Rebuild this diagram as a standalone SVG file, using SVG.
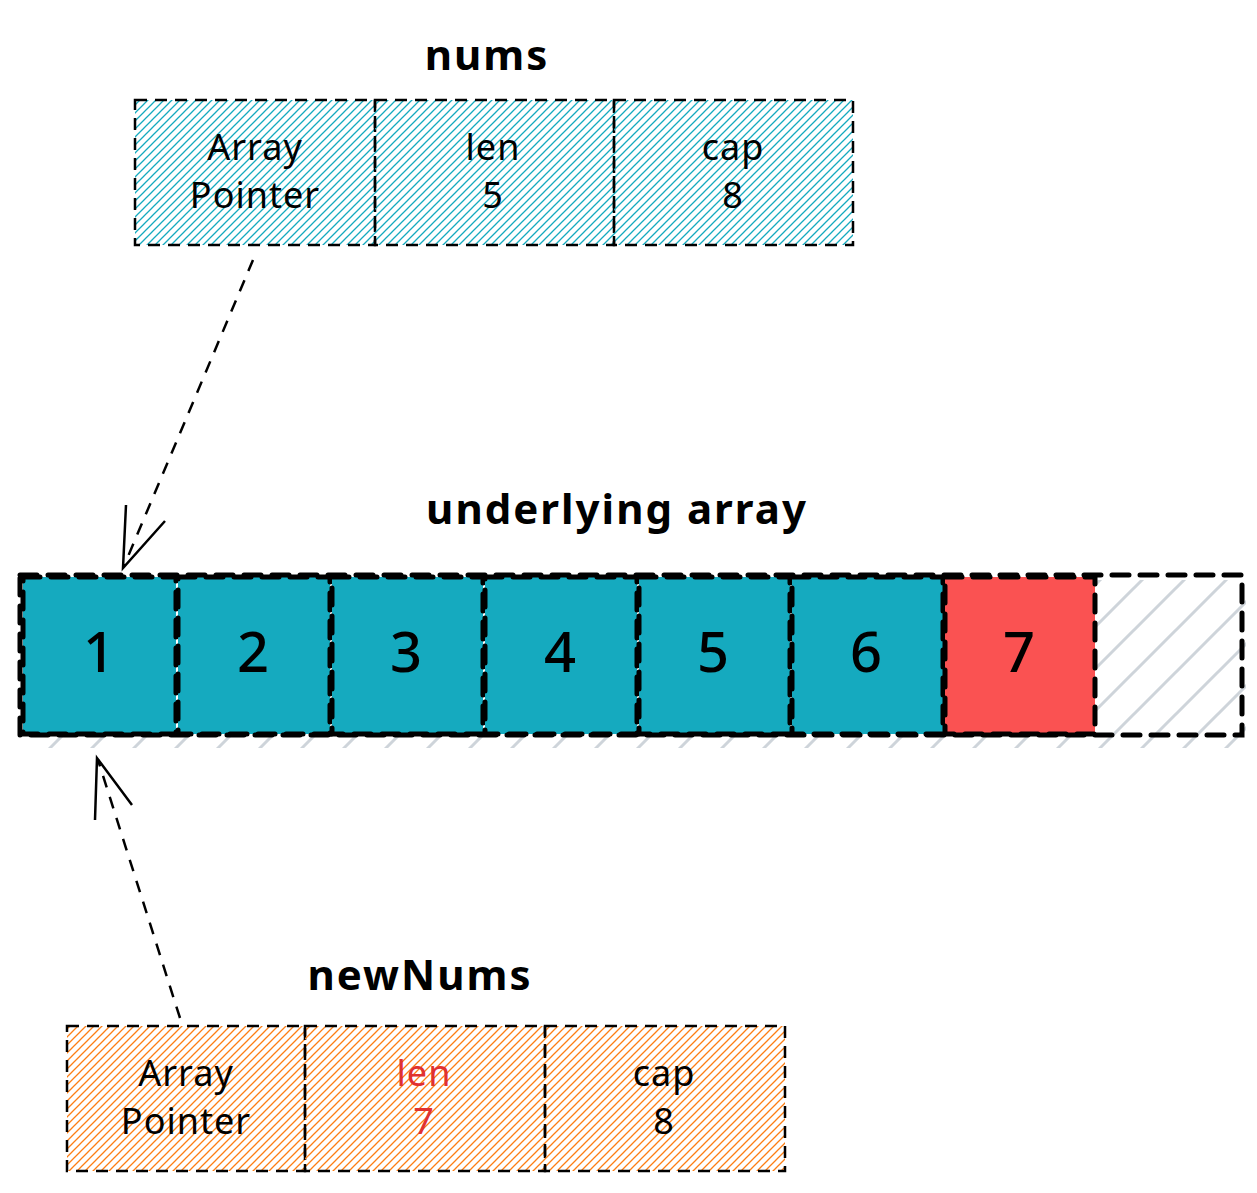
<svg xmlns="http://www.w3.org/2000/svg" width="1257" height="1193" viewBox="0 0 1257 1193">
<style>
text{font-family:"Noto Sans","Liberation Sans",sans-serif;fill:#000;text-anchor:middle}
.title{font-size:42px;font-weight:bold;letter-spacing:2px}
.lbl{font-size:36px;letter-spacing:1px}
.dig{font-size:56px;font-weight:500}
.box{stroke:#000;stroke-width:2.5;stroke-dasharray:12 8;fill-opacity:1}
.cell{stroke:#000;stroke-width:5;stroke-dasharray:17 11;stroke-linecap:round}
.conn{stroke:#000;stroke-width:2.5;fill:none}
.dash{stroke-dasharray:12 10}
</style>
<defs>
<pattern id="hTeal" patternUnits="userSpaceOnUse" width="8" height="8">
<path d="M-2,2 l4,-4 M0,8 l8,-8 M6,10 l4,-4" stroke="#15aabf" stroke-width="1.3"/>
</pattern>
<pattern id="hOrange" patternUnits="userSpaceOnUse" width="8" height="8">
<path d="M-2,2 l4,-4 M0,8 l8,-8 M6,10 l4,-4" stroke="#fd7e14" stroke-width="1.3"/>
</pattern>
<pattern id="hGray" patternUnits="userSpaceOnUse" width="42" height="42">
<path d="M-4,4 l8,-8 M0,42 l42,-42 M38,46 l8,-8" stroke="#ced4da" stroke-width="3"/>
</pattern>
</defs>

<g id="nums">
<text class="title" x="487" y="70">nums</text>
<g id="nums-ptr">
<rect x="135" y="100" width="240" height="145" fill="url(#hTeal)" class="box"/>
<text class="lbl" x="255" y="160">Array</text>
<text class="lbl" x="255" y="208">Pointer</text>
</g>
<g id="nums-len">
<rect x="375" y="100" width="239" height="145" fill="url(#hTeal)" class="box"/>
<text class="lbl" x="493" y="160">len</text>
<text class="lbl" x="493" y="208">5</text>
</g>
<g id="nums-cap">
<rect x="614" y="100" width="239" height="145" fill="url(#hTeal)" class="box"/>
<text class="lbl" x="733" y="160">cap</text>
<text class="lbl" x="733" y="208">8</text>
</g>
</g>

<g id="array">
<text class="title" x="617" y="524">underlying array</text>
<rect x="22" y="580" width="1224" height="168" fill="url(#hGray)"/>
<g id="cell1"><rect x="23" y="577" width="153" height="157" fill="#15aabf" class="cell"/><text class="dig" x="99" y="672">1</text></g>
<g id="cell2"><rect x="178" y="577" width="152" height="157" fill="#15aabf" class="cell"/><text class="dig" x="253" y="672">2</text></g>
<g id="cell3"><rect x="332" y="577" width="151" height="157" fill="#15aabf" class="cell"/><text class="dig" x="406" y="672">3</text></g>
<g id="cell4"><rect x="485" y="577" width="152" height="157" fill="#15aabf" class="cell"/><text class="dig" x="560" y="672">4</text></g>
<g id="cell5"><rect x="639" y="577" width="151" height="157" fill="#15aabf" class="cell"/><text class="dig" x="713" y="672">5</text></g>
<g id="cell6"><rect x="792" y="577" width="151" height="157" fill="#15aabf" class="cell"/><text class="dig" x="866" y="672">6</text></g>
<g id="cell7"><rect x="945" y="577" width="150" height="157" fill="#fa5252" class="cell"/><text class="dig" x="1019" y="672">7</text></g>
<rect x="20" y="575" width="1222" height="160" fill="none" class="cell"/>
</g>

<g id="newNums">
<text class="title" x="420" y="990">newNums</text>
<g id="new-ptr">
<rect x="67" y="1026" width="238" height="145" fill="url(#hOrange)" class="box"/>
<text class="lbl" x="186" y="1086">Array</text>
<text class="lbl" x="186" y="1134">Pointer</text>
</g>
<g id="new-len">
<rect x="305" y="1026" width="240" height="145" fill="url(#hOrange)" class="box"/>
<text class="lbl" x="424" y="1086" style="fill:#e03131">len</text>
<text class="lbl" x="424" y="1134" style="fill:#e03131">7</text>
</g>
<g id="new-cap">
<rect x="545" y="1026" width="240" height="145" fill="url(#hOrange)" class="box"/>
<text class="lbl" x="664" y="1086">cap</text>
<text class="lbl" x="664" y="1134">8</text>
</g>
</g>

<g id="connectors">
<path class="conn dash" d="M253,260 L124,566"/>
<path class="conn" d="M126,505 L123,568 L165,521"/>
<path class="conn dash" d="M180,1018 L98,760"/>
<path class="conn" d="M95,820 L97,758 L132,805"/>
</g>
</svg>
